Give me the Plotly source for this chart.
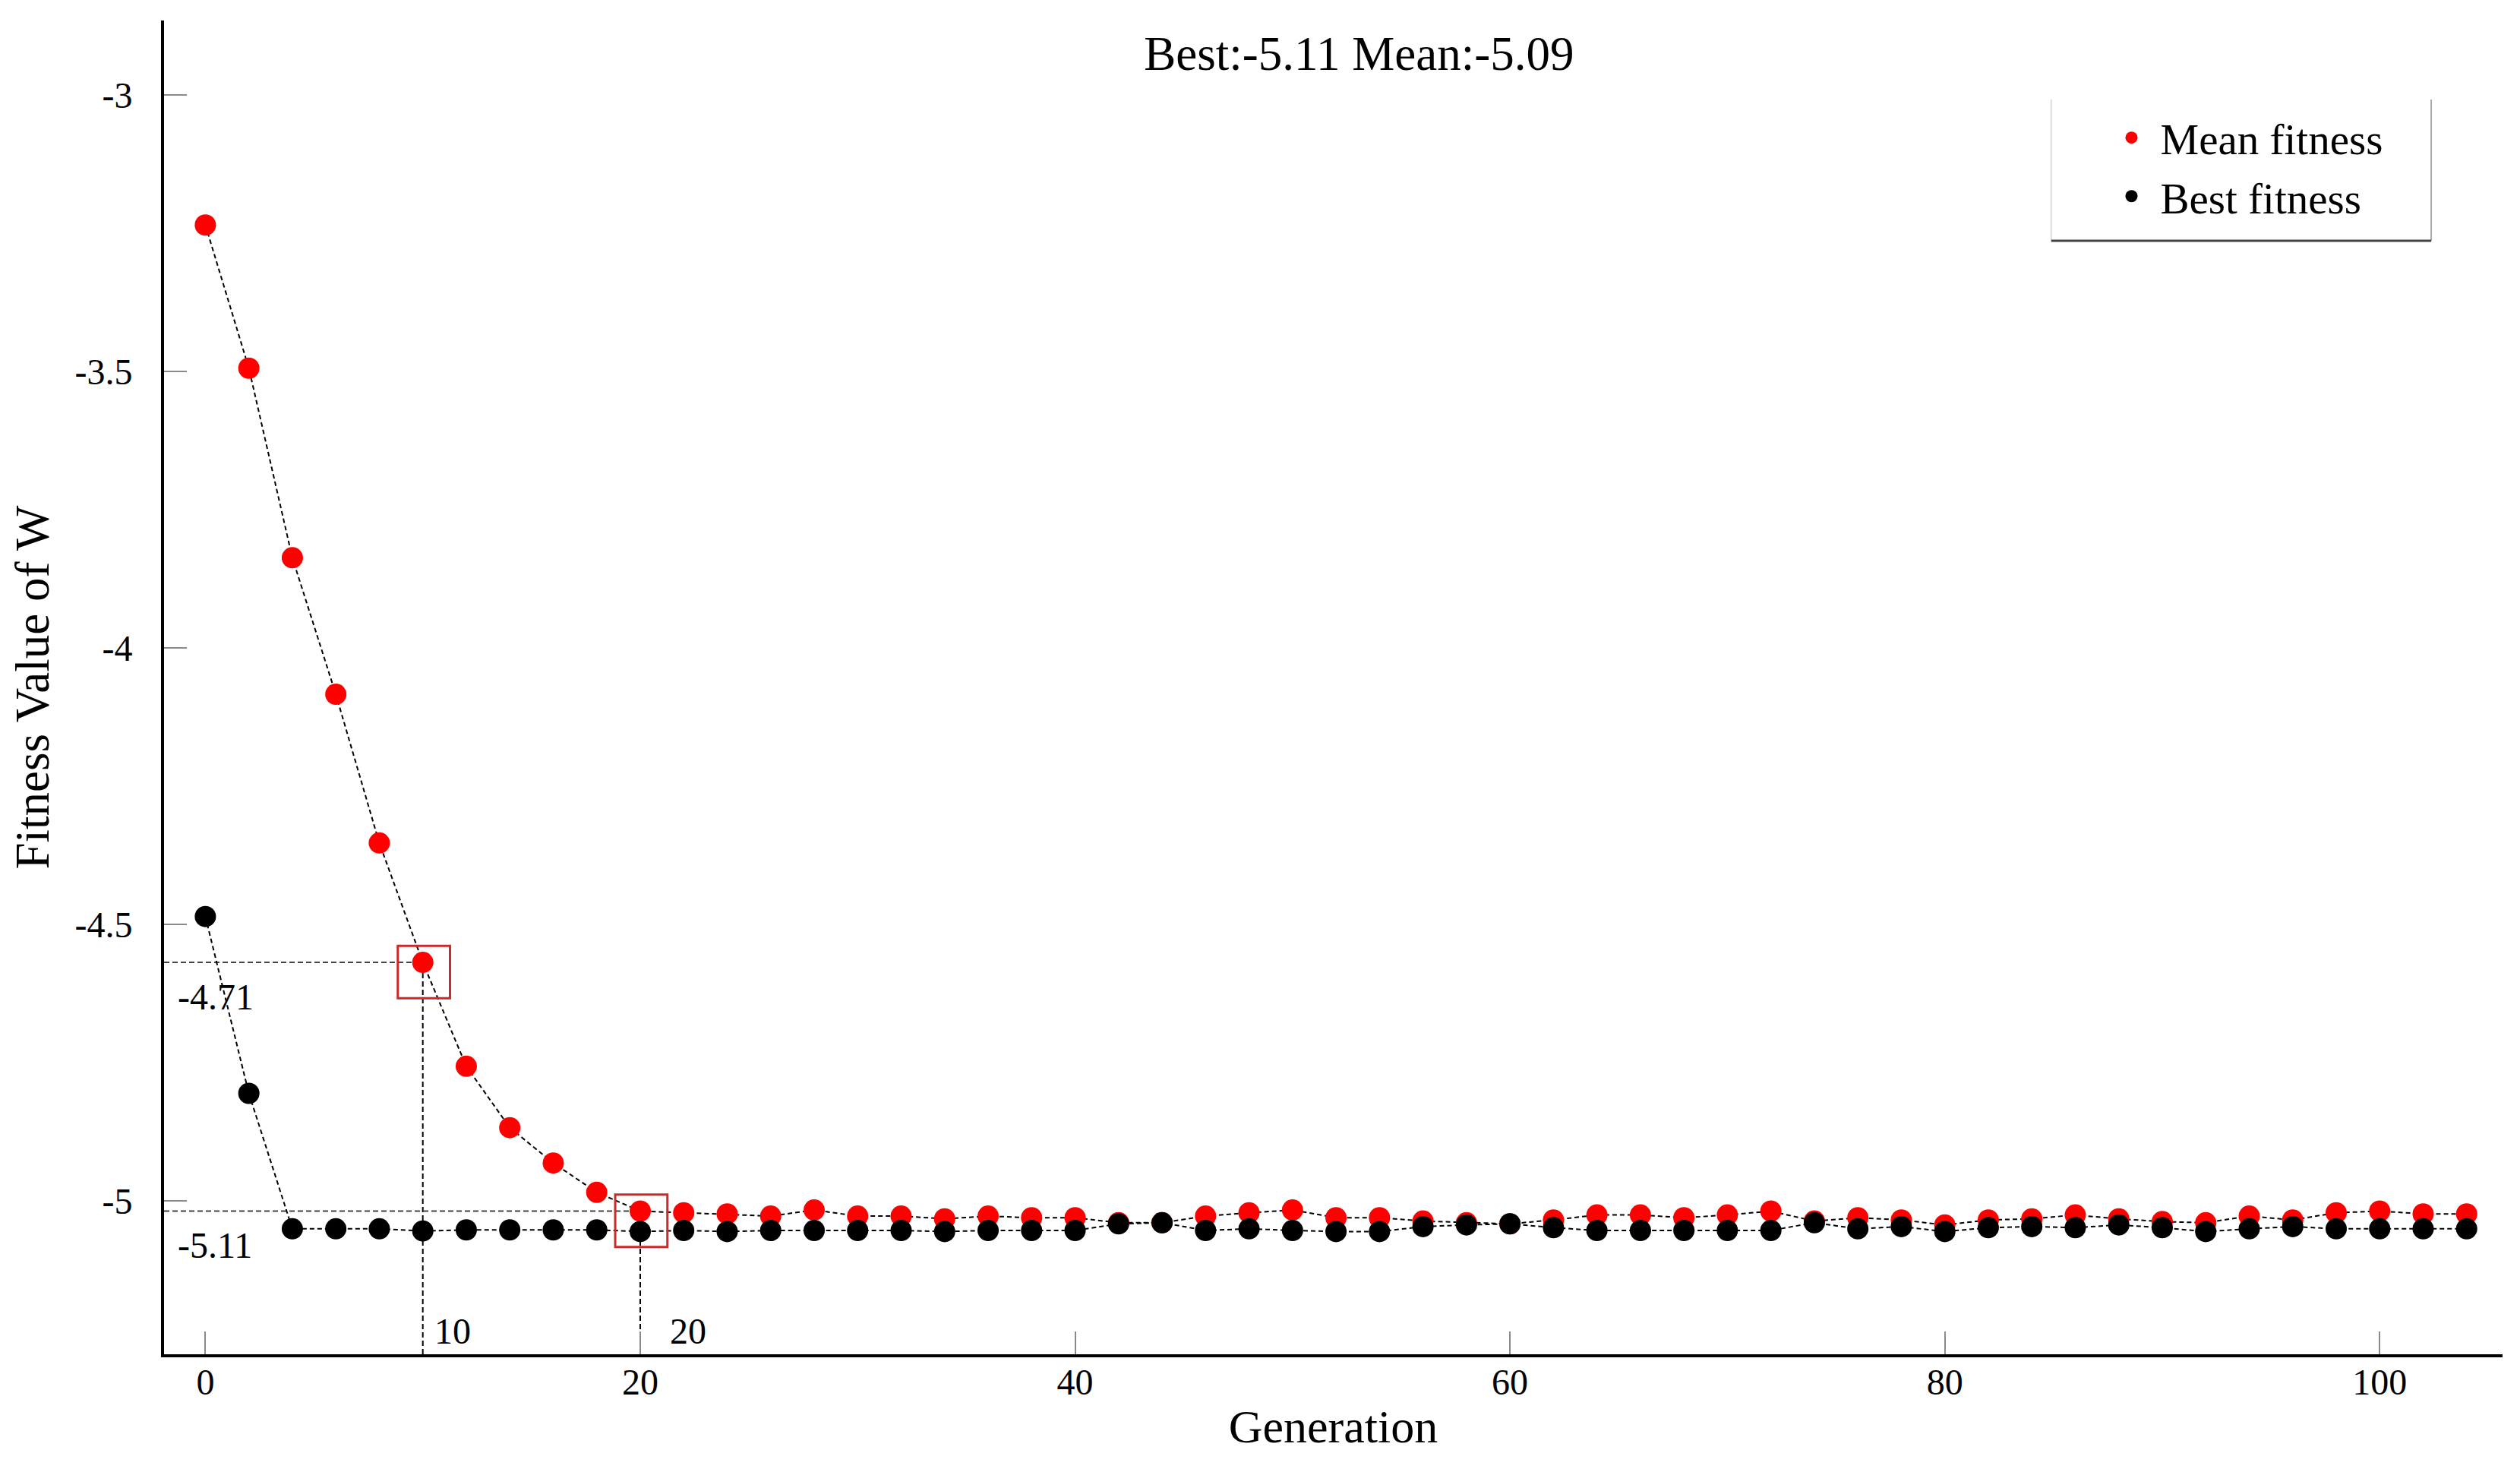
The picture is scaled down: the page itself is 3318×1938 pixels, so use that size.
import plotly.graph_objects as go

# Generation numbers (every second generation).
generation = [0, 2, 4, 6, 8, 10, 12, 14, 16, 18, 20, 22, 24, 26, 28, 30, 32, 34,
              36, 38, 40, 42, 44, 46, 48, 50, 52, 54, 56, 58, 60, 62, 64, 66, 68,
              70, 72, 74, 76, 78, 80, 82, 84, 86, 88, 90, 92, 94, 96, 98, 100,
              102, 104]

# Mean fitness of the population.
mean_fitness = [-3.235, -3.494, -3.837, -4.084, -4.353, -4.569, -4.757, -4.868,
                -4.932, -4.985, -5.019, -5.022, -5.024, -5.028, -5.017, -5.028,
                -5.028, -5.033, -5.028, -5.031, -5.031, -5.040, -5.040, -5.028,
                -5.022, -5.017, -5.031, -5.031, -5.037, -5.040, -5.042, -5.035,
                -5.026, -5.026, -5.031, -5.026, -5.019, -5.037, -5.031, -5.035,
                -5.044, -5.035, -5.033, -5.026, -5.033, -5.038, -5.040, -5.028,
                -5.035, -5.022, -5.019, -5.024, -5.024]

# Best fitness of the population.
best_fitness = [-4.486, -4.806, -5.051, -5.051, -5.051, -5.055, -5.053, -5.053,
                -5.053, -5.053, -5.056, -5.054, -5.056, -5.054, -5.054, -5.054,
                -5.054, -5.056, -5.054, -5.054, -5.054, -5.042, -5.040, -5.054,
                -5.051, -5.054, -5.056, -5.056, -5.047, -5.044, -5.042, -5.049,
                -5.054, -5.054, -5.054, -5.054, -5.054, -5.040, -5.051, -5.047,
                -5.056, -5.049, -5.047, -5.049, -5.044, -5.049, -5.056, -5.051,
                -5.047, -5.051, -5.051, -5.051, -5.051]

# Tick labels.
x_tick_values = [0, 20, 40, 60, 80, 100]
x_tick_labels = ['0', '20', '40', '60', '80', '100']
y_tick_values = [-3, -3.5, -4, -4.5, -5]
y_tick_labels = ['-3', '-3.5', '-4', '-4.5', '-5']

# Highlighted generations and their labels.
marked_generations = [10, 20]
marked_value_labels = ['-4.71', '-5.11']
title_text = 'Best:-5.11 Mean:-5.09'

font_family = 'Liberation Serif'
x_range = [-1.9, 105.65]
y_range = [-5.278, -2.865]

# The page body keeps its default 8px margin, so the figure is made that much smaller.
fig_width = 3302
fig_height = 1922

# Define the figure layout.
layout = dict(
    width=fig_width,
    height=fig_height,
    autosize=False,
    plot_bgcolor='white',
    paper_bgcolor='white',
    margin=dict(t=19, r=15, b=147, l=208, pad=0, autoexpand=False),
    font=dict(family=font_family, size=48, color='black'),
    title=dict(
        text=title_text,
        x=0.511,
        xref='paper',
        xanchor='center',
        y=1 - 62 / fig_height,
        yref='container',
        yanchor='middle',
        font=dict(family=font_family, size=63, color='black'),
    ),
    legend=dict(
        x=0.829,
        y=0.937,
        xanchor='left',
        yanchor='top',
        bgcolor='rgba(255,255,255,0)',
        borderwidth=0,
        itemwidth=66,
        font=dict(family=font_family, size=57, color='black'),
    ),
    xaxis=dict(
        range=x_range,
        tickmode='array',
        tickvals=x_tick_values,
        ticktext=x_tick_labels,
        ticks='inside',
        ticklen=30,
        tickwidth=2,
        tickcolor='#8a8a8a',
        ticklabelstandoff=-9,
        tickfont=dict(family=font_family, size=48, color='black'),
        showline=True,
        linecolor='black',
        linewidth=4,
        showgrid=False,
        zeroline=False,
        mirror=False,
        automargin=False,
        title=dict(
            text='Generation',
            standoff=12,
            font=dict(family=font_family, size=62, color='black'),
        ),
    ),
    yaxis=dict(
        range=y_range,
        tickmode='array',
        tickvals=y_tick_values,
        ticktext=y_tick_labels,
        ticks='inside',
        ticklen=30,
        tickwidth=2,
        tickcolor='#8a8a8a',
        ticklabelstandoff=28,
        tickfont=dict(family=font_family, size=48, color='black'),
        showline=True,
        linecolor='black',
        linewidth=4,
        showgrid=False,
        zeroline=False,
        mirror=False,
        automargin=False,
        title=dict(
            text='Fitness Value of W',
            standoff=24,
            font=dict(family=font_family, size=63, color='black'),
        ),
    ),
)

# Add the data to the figure.
traces = []

# Add the mean fitness.
traces.append(
    go.Scatter(
        x=generation,
        y=mean_fitness,
        mode='lines+markers',
        name='Mean fitness',
        showlegend=False,
        line=dict(color='black', width=2, dash='6px,4px'),
        marker=dict(color='#ff0000', size=28),
    )
)

# Add the best fitness.
traces.append(
    go.Scatter(
        x=generation,
        y=best_fitness,
        mode='lines+markers',
        name='Best fitness',
        showlegend=False,
        line=dict(color='black', width=2, dash='6px,4px'),
        marker=dict(color='black', size=28),
    )
)

# Legend entries show the dots only.
for name, color in [('Mean fitness', '#ff0000'), ('Best fitness', 'black')]:
    traces.append(
        go.Scatter(
            x=[None],
            y=[None],
            mode='markers',
            name=name,
            marker=dict(color=color, size=28),
        )
    )

fig = go.Figure(data=traces, layout=layout)

# Add the guide lines, boxes and labels of the marked generations.
for gen, label in zip(marked_generations, marked_value_labels):
    i = generation.index(gen)
    y_mean = mean_fitness[i]
    y_best = best_fitness[i]

    # Horizontal guide line to the y axis.
    fig.add_shape(
        type='line', xref='x', yref='y', layer='below',
        x0=x_range[0], x1=gen, y0=y_mean, y1=y_mean,
        line=dict(color='#444444', width=2, dash='7px,4px'),
    )

    # Vertical guide line to the x axis.
    fig.add_shape(
        type='line', xref='x', yref='y', layer='below',
        x0=gen, x1=gen, y0=y_range[0], y1=y_mean if gen == 10 else y_best,
        line=dict(color='black', width=2, dash='7px,4px'),
    )

    # Red box round the marked point.
    fig.add_shape(
        type='rect', xref='x', yref='y',
        x0=gen - 1.15, x1=gen + 1.25, y0=y_mean - 0.065, y1=y_mean + 0.03,
        line=dict(color='#cc2a2a', width=3),
    )

    # Value label next to the y axis.
    fig.add_annotation(
        x=-1.35, y=y_mean - 0.062, xref='x', yref='y',
        text=label, showarrow=False, xanchor='left', yanchor='middle',
        font=dict(family=font_family, size=48, color='black'),
    )

    # Generation label next to the x axis.
    fig.add_annotation(
        x=gen + (0.45 if gen == 10 else 1.3), y=-5.236, xref='x', yref='y',
        text=str(gen), showarrow=False, xanchor='left', yanchor='middle',
        font=dict(family=font_family, size=48, color='black'),
    )

# Add the frame of the legend.
legend_box = dict(x0=0.807, x1=0.9695, y0=0.8349, y1=0.9408)
fig.add_shape(
    type='line', xref='paper', yref='paper',
    x0=legend_box['x0'], x1=legend_box['x0'], y0=legend_box['y0'], y1=legend_box['y1'],
    line=dict(color='#dddddd', width=2),
)
fig.add_shape(
    type='line', xref='paper', yref='paper',
    x0=legend_box['x1'], x1=legend_box['x1'], y0=legend_box['y0'], y1=legend_box['y1'],
    line=dict(color='#aaaaaa', width=2),
)
fig.add_shape(
    type='line', xref='paper', yref='paper',
    x0=legend_box['x0'], x1=legend_box['x1'], y0=legend_box['y0'], y1=legend_box['y0'],
    line=dict(color='#444444', width=3),
)

fig.write_html('out.html')
